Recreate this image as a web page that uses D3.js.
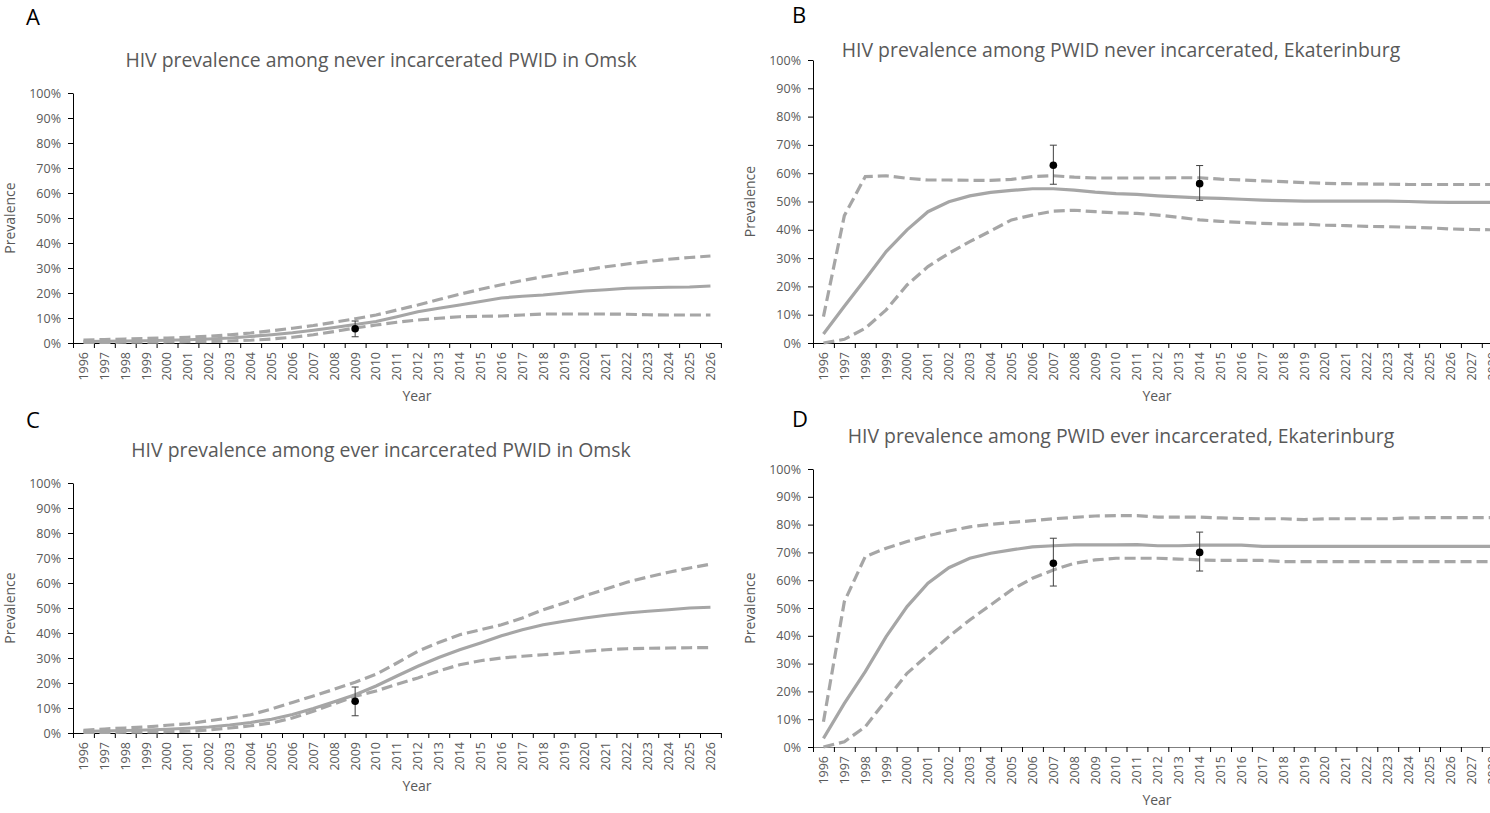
<!DOCTYPE html>
<html>
<head>
<meta charset="utf-8">
<script src="https://cdn.jsdelivr.net/npm/d3@7"></script>
<style>
	body { margin: 0; background: #fff; }
	text { font-family: "Open Sans", sans-serif; }
</style>
</head>
<body>
<svg id="chart" width="1490" height="813"></svg>
<script>

// category labels
var yearsOmsk = ["1996","1997","1998","1999","2000","2001","2002","2003","2004","2005","2006","2007","2008","2009","2010","2011",
	"2012","2013","2014","2015","2016","2017","2018","2019","2020","2021","2022","2023","2024","2025","2026"];
var yearsEkb = ["1996","1997","1998","1999","2000","2001","2002","2003","2004","2005","2006","2007","2008","2009","2010","2011",
	"2012","2013","2014","2015","2016","2017","2018","2019","2020","2021","2022","2023","2024","2025","2026","2027","2028","2029","2030"];

// A - never incarcerated, Omsk (%)
var omskNeverMid  = [0.6,0.7,0.8,0.9,1.1,1.3,1.6,2.0,2.6,3.3,4.1,5.1,6.2,7.4,8.6,10.5,12.5,13.9,15.2,16.6,18.0,18.7,19.2,20.0,20.8,21.3,21.9,22.1,22.3,22.4,22.8];
var omskNeverHigh = [1.2,1.4,1.6,1.8,2.0,2.3,2.7,3.3,4.0,4.9,5.9,7.0,8.3,9.7,11.2,13.2,15.2,17.4,19.5,21.5,23.3,25.0,26.5,27.9,29.2,30.5,31.6,32.6,33.5,34.2,34.8];
var omskNeverLow  = [0.2,0.2,0.3,0.3,0.4,0.5,0.6,0.8,1.1,1.6,2.3,3.3,4.6,6.0,7.2,8.3,9.2,9.9,10.5,10.7,10.8,11.2,11.6,11.6,11.6,11.6,11.5,11.3,11.2,11.2,11.2];
var omskNeverObs  = [{year: "2009", value: 5.7, low: 2.5, high: 8.8}];

// B - never incarcerated, Ekaterinburg (%)
var ekbNeverMid  = [3.2,13.0,22.5,32.3,40.0,46.4,49.9,52.0,53.2,53.9,54.5,54.5,54.0,53.3,52.8,52.5,52.0,51.6,51.3,51.1,50.8,50.5,50.3,50.1,50.1,50.1,50.1,50.1,50.0,49.8,49.7,49.7,49.7,49.7,49.7];
var ekbNeverHigh = [9.3,45.0,58.8,59.1,58.2,57.6,57.6,57.5,57.5,57.8,58.8,59.1,58.6,58.3,58.3,58.3,58.3,58.4,58.4,57.9,57.6,57.3,57.0,56.7,56.4,56.3,56.2,56.1,56.0,56.0,56.0,56.0,56.0,56.0,56.0];
var ekbNeverLow  = [0.0,1.3,5.2,11.7,20.5,27.0,31.7,35.8,39.6,43.5,45.2,46.6,46.9,46.4,46.0,45.8,45.2,44.4,43.5,43.0,42.6,42.3,42.0,42.0,41.6,41.5,41.2,41.1,40.9,40.7,40.3,40.1,40.0,39.9,39.8];
var ekbNeverObs  = [{year: "2007", value: 62.8, low: 56.1, high: 69.9}, {year: "2014", value: 56.3, low: 50.4, high: 62.7}];

// C - ever incarcerated, Omsk (%)
var omskEverMid  = [0.7,0.8,1.0,1.2,1.5,1.9,2.4,3.2,4.2,5.5,7.4,9.8,12.5,15.3,18.8,22.8,26.7,30.2,33.3,36.0,38.9,41.3,43.3,44.7,46.0,47.1,48.0,48.7,49.3,50.0,50.3];
var omskEverHigh = [1.1,1.6,2.0,2.4,3.1,3.7,4.9,6.0,7.3,9.6,12.2,14.8,17.5,20.3,23.5,28.0,32.7,36.2,39.3,41.3,43.3,46.0,49.3,52.0,54.9,57.6,60.3,62.4,64.3,66.0,67.5];
var omskEverLow  = [0.2,0.2,0.3,0.4,0.5,0.7,1.2,2.0,2.9,4.0,6.0,8.7,11.7,14.7,16.8,19.5,22.0,24.8,27.3,28.9,30.0,30.7,31.3,32.0,32.7,33.3,33.7,33.9,34.0,34.1,34.2];
var omskEverObs  = [{year: "2009", value: 12.7, low: 6.9, high: 18.4}];

// D - ever incarcerated, Ekaterinburg (%)
var ekbEverMid  = [3.1,15.7,27.1,39.7,50.5,58.9,64.5,67.9,69.7,70.9,72.0,72.4,72.7,72.7,72.7,72.8,72.4,72.4,72.6,72.6,72.6,72.2,72.2,72.2,72.2,72.2,72.2,72.2,72.2,72.2,72.2,72.2,72.2,72.2,72.2];
var ekbEverHigh = [9.1,52.3,68.5,71.5,73.9,76.0,77.7,79.2,80.1,80.8,81.4,82.1,82.6,83.1,83.2,83.2,82.7,82.7,82.7,82.4,82.2,82.1,82.1,81.8,82.1,82.1,82.1,82.1,82.4,82.5,82.5,82.5,82.5,82.5,82.5];
var ekbEverLow  = [0.0,1.9,7.3,16.9,26.5,33.1,39.7,45.7,51.1,56.5,60.7,63.7,66.1,67.3,67.9,67.9,67.9,67.6,67.3,67.1,67.1,67.1,66.7,66.7,66.7,66.7,66.7,66.7,66.7,66.7,66.7,66.7,66.7,66.7,66.7];
var ekbEverObs  = [{year: "2007", value: 66.1, low: 57.9, high: 75.1}, {year: "2014", value: 70.0, low: 63.3, high: 77.3}];

var yTicks = [0,10,20,30,40,50,60,70,80,90,100];

var svg = d3.select("#chart");

var textGrey = "#595959";
var lineGrey = "#a6a6a6";
var bandStep = 20.9;

function drawPanel(p) {

	var right = p.left + p.years.length * bandStep;

	var x = d3.scaleBand()
		.domain(p.years)
		.range([p.left, right])
		.padding(0);

	var y = d3.scaleLinear()
		.domain([0, 100])
		.range([p.bottom, p.top]);

	//panel letter
	svg.append("text")
		.attr("x", p.letterX)
		.attr("y", p.letterY)
		.attr("font-size", "22px")
		.attr("fill", "#000")
		.text(p.letter);

	//title
	svg.append("text")
		.attr("x", p.left + 308)
		.attr("y", p.titleY)
		.attr("text-anchor", "middle")
		.attr("font-size", "19.4px")
		.attr("fill", textGrey)
		.text(p.title);

	//y axis
	var yAxis = svg.append("g")
		.attr("transform", "translate(" + p.left + ",0)")
		.call(d3.axisLeft(y).tickValues(yTicks).tickFormat(d => d + "%").tickSize(5).tickSizeOuter(0).tickPadding(7));

	yAxis.select(".domain").attr("stroke", "#000");
	yAxis.selectAll(".tick line").attr("stroke", "#000");
	yAxis.selectAll("text")
		.attr("fill", textGrey)
		.attr("font-size", "12.5px")
		.attr("font-family", "Open Sans, sans-serif");

	//x axis: labels at band centres
	var xAxis = svg.append("g")
		.attr("transform", "translate(0," + p.bottom + ")")
		.call(d3.axisBottom(x).tickSize(0).tickSizeOuter(0));

	xAxis.select(".domain").attr("stroke", p.xAxisColor);
	xAxis.selectAll("text")
		.attr("fill", textGrey)
		.attr("font-size", "12.5px")
		.attr("font-family", "Open Sans, sans-serif")
		.attr("transform", "rotate(-90)")
		.attr("x", -9)
		.attr("y", 0)
		.attr("dy", "0.35em")
		.attr("text-anchor", "end");

	//tick marks between categories (excel style)
	var boundary = d3.scaleLinear().domain([0, p.years.length]).range([p.left, right]);
	var xTicks = svg.append("g")
		.attr("transform", "translate(0," + p.bottom + ")")
		.call(d3.axisBottom(boundary).tickValues(d3.range(p.years.length + 1)).tickFormat("").tickSize(5).tickSizeOuter(0));
	xTicks.select(".domain").remove();
	xTicks.selectAll(".tick line").attr("stroke", "#000");

	//axis titles
	svg.append("text")
		.attr("transform", "translate(" + (p.left - 58) + "," + ((p.top + p.bottom) / 2) + ") rotate(-90)")
		.attr("text-anchor", "middle")
		.attr("font-size", "14px")
		.attr("fill", textGrey)
		.text("Prevalence");

	svg.append("text")
		.attr("x", p.left + 344)
		.attr("y", p.yearY)
		.attr("text-anchor", "middle")
		.attr("font-size", "14px")
		.attr("fill", textGrey)
		.text("Year");

	var line = d3.line()
		.x((d, i) => x(p.years[i]) + x.bandwidth() / 2)
		.y(d => y(d));

	//uncertainty bounds
	[p.high, p.low].forEach(function(series) {
		svg.append("path")
			.datum(series)
			.attr("d", line)
			.attr("fill", "none")
			.attr("stroke", lineGrey)
			.attr("stroke-width", 3.2)
			.attr("stroke-dasharray", "11,5");
	});

	//central estimate
	svg.append("path")
		.datum(p.mid)
		.attr("d", line)
		.attr("fill", "none")
		.attr("stroke", lineGrey)
		.attr("stroke-width", 3.2);

	//observed prevalence with error bars
	var obs = svg.append("g")
		.selectAll("g")
		.data(p.obs)
		.enter()
		.append("g")
		.attr("transform", d => "translate(" + (x(d.year) + x.bandwidth() / 2) + ",0)");

	obs.append("line")
		.attr("x1", 0).attr("x2", 0)
		.attr("y1", d => y(d.low))
		.attr("y2", d => y(d.high))
		.attr("stroke", "#404040")
		.attr("stroke-width", 1);

	obs.selectAll("line.cap")
		.data(d => [d.low, d.high])
		.enter()
		.append("line")
		.attr("class", "cap")
		.attr("x1", -3.5).attr("x2", 3.5)
		.attr("y1", d => y(d))
		.attr("y2", d => y(d))
		.attr("stroke", "#404040")
		.attr("stroke-width", 1);

	obs.append("circle")
		.attr("cx", 0)
		.attr("cy", d => y(d.value))
		.attr("r", 3.8)
		.attr("fill", "#000");
}

drawPanel({
	letter: "A", letterX: 26, letterY: 25,
	title: "HIV prevalence among never incarcerated PWID in Omsk", titleY: 67,
	left: 73, top: 93, bottom: 343, yearY: 401, xAxisColor: "#000",
	years: yearsOmsk, mid: omskNeverMid, high: omskNeverHigh, low: omskNeverLow, obs: omskNeverObs
});

drawPanel({
	letter: "B", letterX: 792, letterY: 23,
	title: "HIV prevalence among PWID never incarcerated, Ekaterinburg", titleY: 57,
	left: 813, top: 60, bottom: 343, yearY: 401, xAxisColor: "#000",
	years: yearsEkb, mid: ekbNeverMid, high: ekbNeverHigh, low: ekbNeverLow, obs: ekbNeverObs
});

drawPanel({
	letter: "C", letterX: 26, letterY: 428,
	title: "HIV prevalence among ever incarcerated PWID in Omsk", titleY: 457,
	left: 73, top: 483, bottom: 733, yearY: 791, xAxisColor: "#000",
	years: yearsOmsk, mid: omskEverMid, high: omskEverHigh, low: omskEverLow, obs: omskEverObs
});

drawPanel({
	letter: "D", letterX: 792, letterY: 427,
	title: "HIV prevalence among PWID ever incarcerated, Ekaterinburg", titleY: 443,
	left: 813, top: 469, bottom: 747, yearY: 805, xAxisColor: "#7f7f7f",
	years: yearsEkb, mid: ekbEverMid, high: ekbEverHigh, low: ekbEverLow, obs: ekbEverObs
});

</script>
</body>
</html>
